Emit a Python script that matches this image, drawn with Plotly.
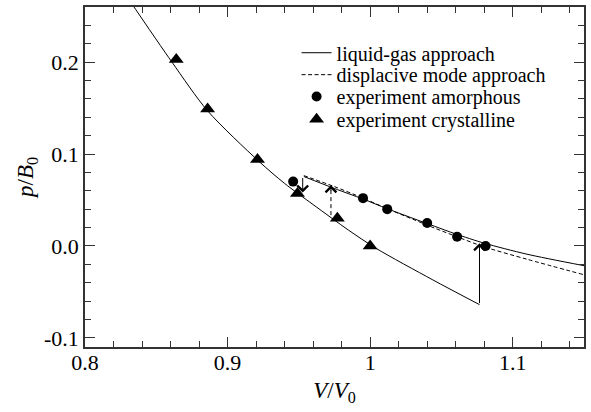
import plotly.graph_objects as go

# Liquid-gas approach: compressed (lower) branch and expanded (upper) branch
lower_v = [0.830, 0.861, 0.886, 0.922, 0.940, 0.960, 0.985, 1.004, 1.044, 1.0767]
lower_p = [0.270, 0.200, 0.147, 0.092, 0.068, 0.045, 0.017, -0.0025, -0.037, -0.0639]

upper_v = [0.9535, 0.975, 0.995, 1.012, 1.030, 1.045, 1.060, 1.080, 1.110, 1.150]
upper_p = [0.0755, 0.0625, 0.051, 0.0405, 0.0300, 0.0215, 0.0130, 0.0030, -0.0090, -0.0215]

# Displacive mode approach (expanded branch)
disp_v = [0.9535, 0.975, 0.995, 1.012, 1.030, 1.045, 1.060, 1.080, 1.110, 1.150]
disp_p = [0.0765, 0.0645, 0.052, 0.0405, 0.029, 0.0195, 0.0105, -0.001, -0.0145, -0.0314]

# Experimental points
amorph_v = [0.946, 0.995, 1.012, 1.040, 1.061, 1.081]
amorph_p = [0.070, 0.052, 0.040, 0.025, 0.010, 0.000]
cryst_v = [0.864, 0.886, 0.921, 0.949, 0.977, 1.000]
cryst_p = [0.203, 0.149, 0.094, 0.057, 0.030, 0.000]

# Transitions between branches: volume, start pressure, end pressure
lg_down_v, lg_down_from, lg_down_to = 0.9527, 0.0755, 0.058
lg_up_v, lg_up_from, lg_up_to = 1.0767, -0.0639, 0.003
dm_up_v, dm_up_from, dm_up_to = 0.9725, 0.0335, 0.066

# Axis ticks
x_range = [0.8, 1.15]
y_range = [-0.11, 0.26]
y_tick_vals = [-0.1, 0.0, 0.1, 0.2]
y_tick_text = ["-0.1", "0.0", "0.1", "0.2"]

FONT = "Times New Roman, Liberation Serif, DejaVu Serif, serif"
INK = "black"

fig = go.Figure()

fig.add_trace(go.Scatter(
    x=lower_v, y=lower_p, mode="lines", name="liquid-gas approach",
    line=dict(color=INK, width=1, shape="spline", smoothing=0.8),
    legend="legend"))
fig.add_trace(go.Scatter(
    x=upper_v, y=upper_p, mode="lines", showlegend=False,
    line=dict(color=INK, width=1, shape="spline", smoothing=0.8)))
fig.add_trace(go.Scatter(
    x=disp_v, y=disp_p, mode="lines", name="displacive mode approach",
    line=dict(color=INK, width=1, dash="4px,2.5px", shape="spline", smoothing=0.8),
    legend="legend2"))
fig.add_trace(go.Scatter(
    x=[dm_up_v, dm_up_v], y=[dm_up_from, dm_up_to], mode="lines", showlegend=False,
    line=dict(color=INK, width=1, dash="4px,3px")))
fig.add_trace(go.Scatter(
    x=amorph_v, y=amorph_p, mode="markers", name="experiment amorphous",
    marker=dict(symbol="circle", size=10, color=INK),
    legend="legend3"))
fig.add_trace(go.Scatter(
    x=cryst_v, y=cryst_p, mode="markers", name="experiment crystalline",
    marker=dict(symbol="triangle-up", size=13, color=INK),
    legend="legend4"))

arrow_style = dict(showarrow=True, arrowhead=4, arrowsize=2.1, arrowwidth=1,
                   arrowcolor=INK, text="", xref="x", yref="y")
# solid arrows between liquid-gas branches
fig.add_annotation(x=lg_down_v, y=lg_down_to, ax=lg_down_v, ay=lg_down_from,
                   axref="x", ayref="y", **arrow_style)
fig.add_annotation(x=lg_up_v, y=lg_up_to, ax=lg_up_v, ay=lg_up_from,
                   axref="x", ayref="y", **arrow_style)
# head of the dashed displacive-mode arrow
fig.add_annotation(x=dm_up_v, y=dm_up_to, ax=0, ay=7, **arrow_style)

axis_common = dict(
    showline=True, linecolor="#333", linewidth=1.5, mirror="ticks",
    ticks="inside", ticklen=10, tickwidth=1, tickcolor="#333",
    showgrid=False, zeroline=False,
    tickfont=dict(family=FONT, size=22, color=INK),
)

fig.update_xaxes(
    range=x_range, dtick=0.1, tick0=0.8, ticklabelstandoff=-5,
    minor=dict(dtick=0.02, ticks="inside", ticklen=6, tickcolor="#333", showgrid=False),
    title=dict(text="<i>V</i>/<i>V</i><sub>0</sub>", font=dict(family=FONT, size=23, color=INK),
               standoff=8),
    **axis_common)
fig.update_yaxes(
    range=y_range, tickvals=y_tick_vals, ticktext=y_tick_text,
    minor=dict(dtick=0.02, tick0=0, ticks="inside", ticklen=6, tickcolor="#333", showgrid=False),
    title=dict(text="<i>p</i>/<i>B</i><sub>0</sub>", font=dict(family=FONT, size=23, color=INK),
               standoff=4),
    **axis_common)

leg = dict(x=0.424, xanchor="left", yanchor="middle", bgcolor="rgba(0,0,0,0)",
           borderwidth=0, font=dict(family=FONT, size=20, color=INK))
fig.update_layout(
    width=591, height=412,
    margin=dict(l=85, r=6, t=5, b=65),
    paper_bgcolor="white", plot_bgcolor="white",
    font=dict(family=FONT, color=INK),
    legend=dict(y=0.8655, **leg),
    legend2=dict(y=0.801, **leg),
    legend3=dict(y=0.737, **leg),
    legend4=dict(y=0.670, **leg),
)

fig.write_html("out.html")
